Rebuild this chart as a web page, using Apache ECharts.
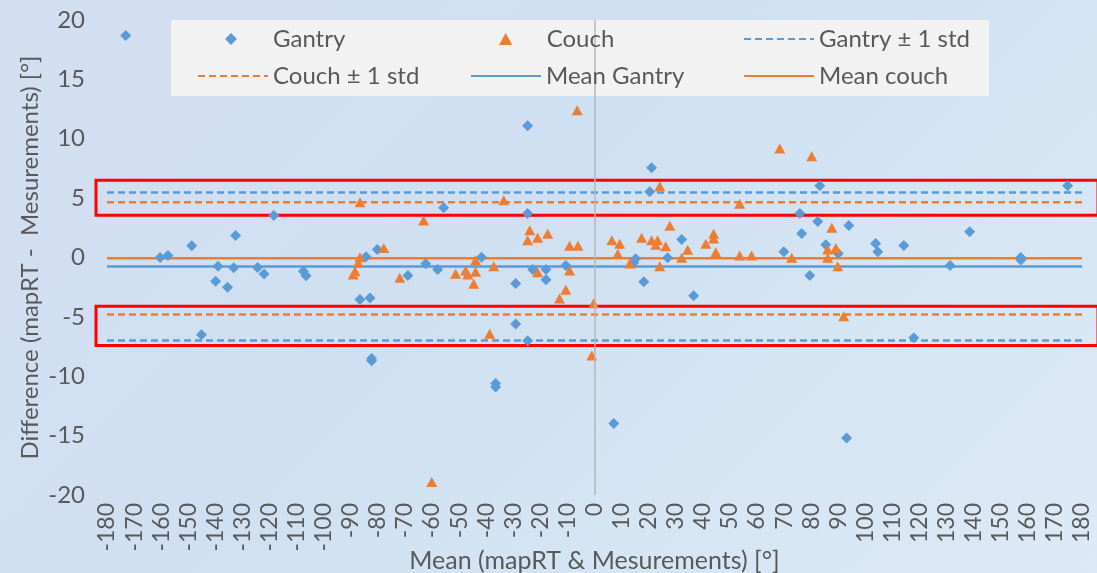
<!DOCTYPE html>
<html><head><meta charset="utf-8">
<script src="https://cdn.jsdelivr.net/npm/echarts@6/dist/echarts.min.js"></script>
<style>
html,body{margin:0;padding:0;}
#c{width:1097px;height:573px;background:linear-gradient(135deg,#d3def1 0%,#cfe0f2 45%,#d6e6f4 75%,#dde9f6 100%);}
</style>
</head><body><div id="c"></div>
<script>
// ---- data ----
const gantryX = [-173.1,-160.4,-157.5,-148.7,-145.1,-139.9,-139.0,-135.5,-133.2,-132.5,-124.4,-122.0,-118.4,-107.5,-106.5,
  -24.7,-55.7,-24.7,-80.2,-84.4,-62.3,-57.9,-68.9,-41.7,-29.1,-22.8,-17.9,-17.9,-10.6,-86.6,-82.9,-29.1,-24.7,-82.3,-82.3,-36.5,-36.5,
  21.1,20.4,83.2,75.8,82.4,93.9,76.5,32.2,69.9,85.4,90.0,27.0,15.2,14.5,18.2,36.6,79.5,7.1,93.1,
  103.8,104.6,114.2,138.5,131.3,157.4,157.4,174.7,117.9];
const gantryY = [18.7,0.0,0.17,1.0,-6.5,-2.0,-0.73,-2.5,-0.87,1.85,-0.84,-1.38,3.54,-1.15,-1.54,
  11.1,4.2,3.7,0.67,0.06,-0.53,-1.01,-1.52,0.03,-2.19,-1.01,-1.01,-1.88,-0.67,-3.54,-3.4,-5.6,-7.0,-8.5,-8.7,-10.6,-10.9,
  7.55,5.53,6.04,3.7,3.03,2.7,2.02,1.52,0.48,1.07,0.34,-0.03,-0.11,-0.45,-2.05,-3.23,-1.52,-13.98,-15.2,
  1.18,0.48,1.01,2.16,-0.67,0.0,-0.2,6.04,-6.76];
const couchX = [-6.4,-86.6,-33.5,-63.1,-23.9,-24.7,-21.0,-17.3,-9.2,-6.1,-77.8,-86.6,-87.2,-88.4,-89.1,-71.9,-51.3,-47.6,-46.8,-43.9,-44.6,-43.9,-37.2,-21.0,-9.2,-10.6,-12.9,-38.7,-60.1,-0.3,-1.0,
  68.4,80.2,24.1,53.6,27.8,87.6,44.0,44.0,6.4,9.3,17.4,21.1,23.3,22.6,26.3,41.1,34.4,44.8,8.6,32.2,53.6,58.0,72.8,86.1,89.1,86.1,89.8,13.0,24.1,92.0];
const couchY = [12.4,4.66,4.83,3.12,2.3,1.46,1.66,2.0,0.98,0.98,0.79,0.03,-0.45,-1.15,-1.43,-1.71,-1.37,-1.09,-1.43,-1.2,-2.21,-0.23,-0.73,-1.24,-1.09,-2.72,-3.45,-6.43,-18.9,-3.85,-8.25,
  9.18,8.53,6.0,4.52,2.67,2.5,2.0,1.6,1.46,1.15,1.66,1.46,1.46,1.07,0.95,1.15,0.65,0.45,0.31,-0.03,0.17,0.17,-0.03,0.67,0.79,-0.03,-0.73,-0.5,-0.73,-4.94];
const xRange = [-180, 180];
const gantryStats = [-0.75, 5.48, -6.98];   // mean, +1 std, -1 std
const couchStats  = [-0.07, 4.66, -4.80];
const highlightBoxes = [[6.5, 3.55], [-4.1, -7.4]];  // y ranges of red annotation boxes

// ---- chart ----
const BLUE = '#5b9bd5', ORANGE = '#ed7d31', TXT = '#595959', FONT = 'Lato', FS = 24;
const chart = echarts.init(document.getElementById('c'), null, {renderer: 'canvas'});
const pairs = (xs, ys) => xs.map((x, i) => [x, ys[i]]);
const hline = v => [[xRange[0], v], [xRange[1], v]];
const diamondIcon = 'path://M5 0L10 5L5 10L0 5Z';
const triIcon = 'path://M5 0L10 9L0 9Z';

function lineSeries(name, v, color, dashed) {
  return {
    name, type: 'line', data: hline(v), symbol: 'none', showSymbol: false, z: 2, silent: true,
    lineStyle: {color, width: 2.5, type: dashed ? [7, 4] : 'solid'},
    itemStyle: {color}
  };
}
function legendLine(name, left, top) {
  return {
    data: [{name}], left, top, padding: 0, z: 6,
    itemWidth: 70, itemHeight: 14, itemGap: 0,
    itemStyle: {color: 'rgba(0,0,0,0)', borderWidth: 0, opacity: 0},
    textStyle: {color: TXT, fontSize: FS, fontFamily: FONT}, selectedMode: false
  };
}
function legendSym(name, left, top, icon, pad) {
  return {
    data: [{name, icon}], left, top, padding: 0, z: 6,
    itemWidth: 14, itemHeight: 12, itemGap: 0, symbolKeepAspect: true,
    textStyle: {color: TXT, fontSize: FS, fontFamily: FONT, padding: [0, 0, 0, pad]}, selectedMode: false
  };
}

const option = {
  animation: false,
  textStyle: {fontFamily: FONT},
  grid: {left: 107, right: 15, top: 20, bottom: 78, containLabel: false, outerBoundsMode: 'none'},
  xAxis: {
    type: 'value', min: xRange[0], max: xRange[1], interval: 10,
    splitLine: {show: false}, axisTick: {show: false}, axisLine: {show: false},
    axisLabel: {rotate: 90, color: TXT, fontSize: 23, fontFamily: FONT, margin: 8, showMinLabel: true, showMaxLabel: true},
    name: 'Mean (mapRT & Mesurements) [°]', nameLocation: 'middle', nameGap: 53, nameMoveOverlap: false,
    nameTextStyle: {color: TXT, fontSize: 25, fontFamily: FONT, verticalAlign: 'top'}
  },
  yAxis: {
    type: 'value', min: -20, max: 20, interval: 5,
    splitLine: {show: false}, axisTick: {show: false}, axisLine: {show: false},
    axisLabel: {color: TXT, fontSize: FS, fontFamily: FONT, margin: 22},
    name: 'Difference (mapRT -  Mesurements) [°]', nameLocation: 'middle', nameGap: 65, nameMoveOverlap: false,
    nameTextStyle: {color: TXT, fontSize: FS, fontFamily: FONT}
  },
  legend: [
    legendSym('Gantry', 225, 27, diamondIcon, 30),
    legendSym('Couch', 499, 27, triIcon, 29),
    legendLine('Gantry ± 1 std', 743, 27),
    legendLine('Couch ± 1 std', 197, 64),
    legendLine('Mean Gantry', 470, 64),
    legendLine('Mean couch', 743, 64)
  ],
  graphic: [{
    type: 'rect', z: 5, silent: true,
    shape: {x: 171, y: 20, width: 818, height: 76},
    style: {fill: '#f2f2f2'}
  }],
  series: [
    {name: 'Gantry', type: 'scatter', data: pairs(gantryX, gantryY), symbol: 'diamond', symbolSize: 11, z: 4,
      itemStyle: {color: BLUE, opacity: 1}},
    {name: 'Couch', type: 'scatter', data: pairs(couchX, couchY), symbol: 'triangle', symbolSize: [11, 10], z: 4,
      itemStyle: {color: ORANGE, opacity: 1}},
    lineSeries('Gantry ± 1 std', gantryStats[1], BLUE, true),
    lineSeries('Gantry ± 1 std', gantryStats[2], BLUE, true),
    lineSeries('Couch ± 1 std', couchStats[1], ORANGE, true),
    lineSeries('Couch ± 1 std', couchStats[2], ORANGE, true),
    Object.assign(lineSeries('Mean Gantry', gantryStats[0], BLUE, false), {
      markLine: {silent: true, symbol: 'none', label: {show: false},
        lineStyle: {color: '#b7b7b7', width: 1.5, type: 'solid'}, data: [{xAxis: 0}]}
    }),
    lineSeries('Mean couch', couchStats[0], ORANGE, false)
  ]
};
chart.setOption(option);

// red annotation boxes around the ±1 std bands
const boxGraphics = highlightBoxes.map(b => {
  const y1 = chart.convertToPixel({yAxisIndex: 0}, b[0]);
  const y2 = chart.convertToPixel({yAxisIndex: 0}, b[1]);
  return {type: 'rect', z: 3, silent: true,
    shape: {x: 96, y: y1, width: 1002, height: y2 - y1},
    style: {fill: 'none', stroke: '#ff0000', lineWidth: 3}};
});
chart.setOption({graphic: option.graphic.concat(boxGraphics)});
</script>
</body></html>
